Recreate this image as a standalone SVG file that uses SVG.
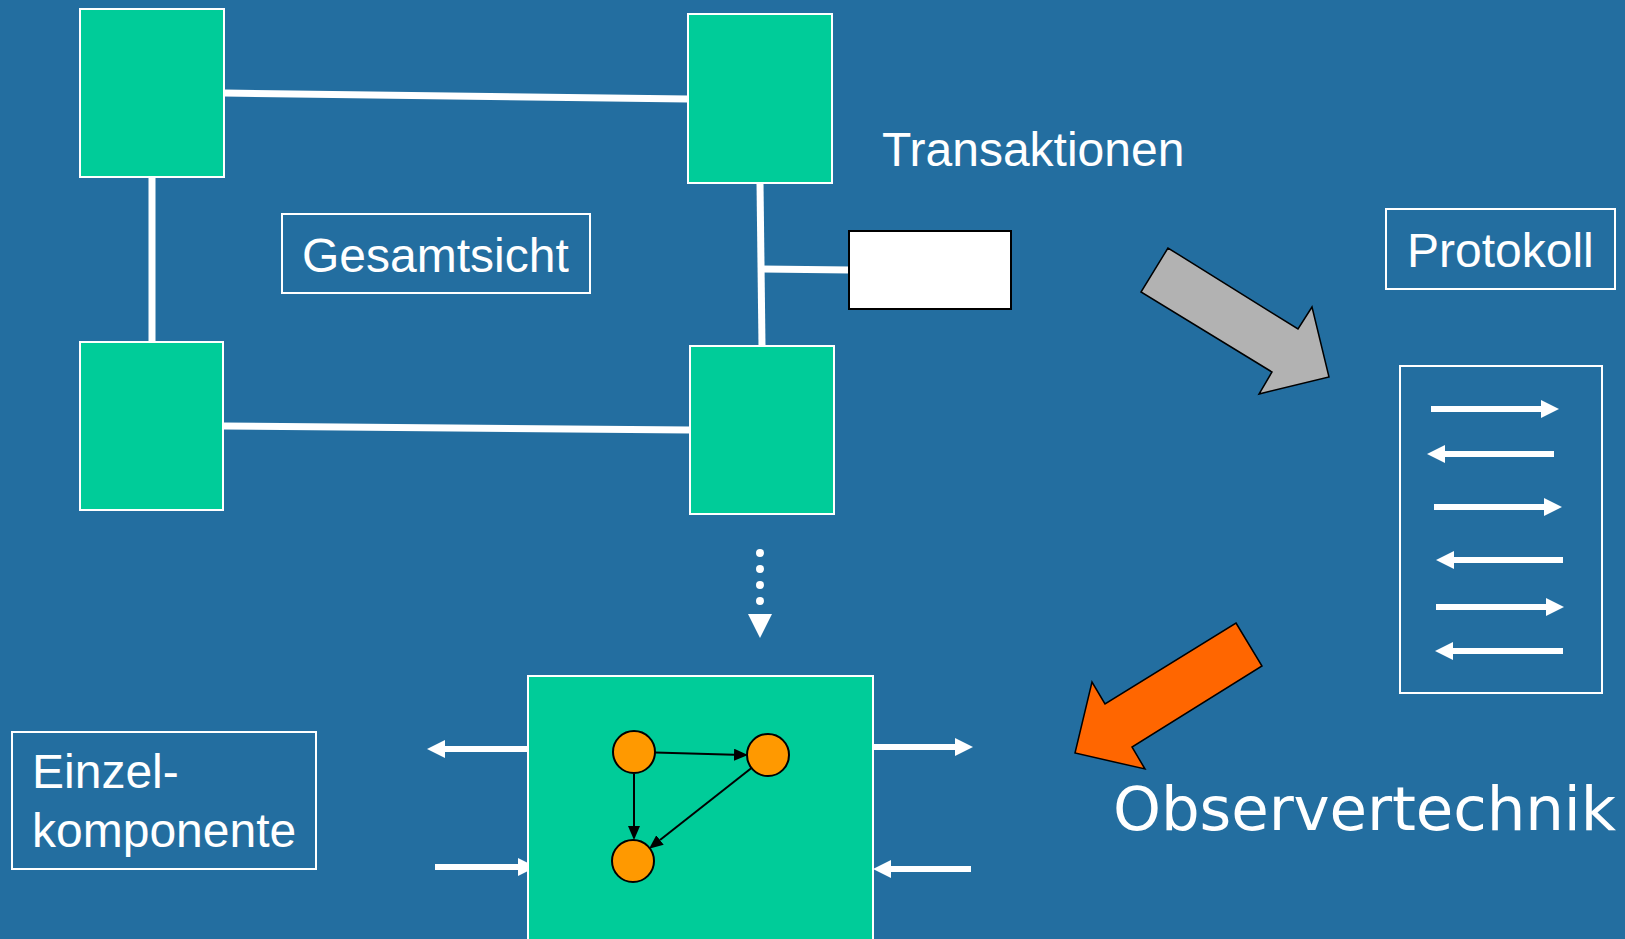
<svg xmlns="http://www.w3.org/2000/svg" width="1625" height="939" viewBox="0 0 1625 939">
  <style>
    .comp { fill: #00cc99; stroke: #ffffff; stroke-width: 2; }
    .frame { fill: none; stroke: #ffffff; stroke-width: 2; }
    .wire { stroke: #ffffff; stroke-width: 7; fill: none; }
    .flow { stroke: #ffffff; stroke-width: 6; fill: none; marker-end: url(#whiteHead); }
    .label { font-family: "Liberation Sans", Arial, sans-serif; font-size: 48px; fill: #ffffff; }
    .state { fill: #ff9900; stroke: #000000; stroke-width: 2; }
    .edge { stroke: #000000; stroke-width: 2; fill: none; marker-end: url(#blackHead); }
  </style>
  <defs>
    <marker id="whiteHead" viewBox="0 -9 18 18" refX="0" refY="0" markerWidth="18" markerHeight="18" markerUnits="userSpaceOnUse" orient="auto">
      <path d="M0,-9 L18,0 L0,9 Z" fill="#ffffff"/>
    </marker>
    <marker id="blackHead" viewBox="0 -6 14 12" refX="0" refY="0" markerWidth="14" markerHeight="12" markerUnits="userSpaceOnUse" orient="auto">
      <path d="M0,-6 L14,0 L0,6 Z" fill="#000000"/>
    </marker>
  </defs>

  <rect width="1625" height="939" fill="#236ea0"/>

  <!-- connectors of the overall view -->
  <g id="connectors">
    <line class="wire" x1="224" y1="93" x2="688" y2="99"/>
    <line class="wire" x1="152" y1="177" x2="152" y2="342"/>
    <line class="wire" x1="760" y1="183" x2="762" y2="346"/>
    <line class="wire" x1="761" y1="269" x2="850" y2="270"/>
    <line class="wire" x1="223" y1="426" x2="690" y2="430"/>
    <!-- dotted zoom-in arrow -->
    <line x1="760" y1="553" x2="760" y2="602" stroke="#ffffff" stroke-width="8" stroke-linecap="round" stroke-dasharray="0 16"/>
    <polygon points="748,614 772,614 760,638" fill="#ffffff"/>
    <!-- interface arrows of the single component -->
    <line class="flow" x1="528" y1="749" x2="445" y2="749"/>
    <line class="flow" x1="435" y1="867" x2="518" y2="867"/>
    <line class="flow" x1="873" y1="747" x2="955" y2="747"/>
    <line class="flow" x1="971" y1="869" x2="891" y2="869"/>
  </g>

  <!-- components of the overall view -->
  <g id="comp-tl"><rect class="comp" x="80" y="9" width="144" height="168"/></g>
  <g id="comp-tr"><rect class="comp" x="688" y="14" width="144" height="169"/></g>
  <g id="comp-bl"><rect class="comp" x="80" y="342" width="143" height="168"/></g>
  <g id="comp-br"><rect class="comp" x="690" y="346" width="144" height="168"/></g>

  <g id="transaction-box"><rect x="849" y="231" width="162" height="78" fill="#ffffff" stroke="#000000" stroke-width="2"/></g>

  <g id="label-gesamtsicht">
    <rect class="frame" x="282" y="214" width="308" height="79"/>
    <text class="label" x="302" y="272">Gesamtsicht</text>
  </g>

  <g id="label-transaktionen">
    <text class="label" x="882" y="166">Transaktionen</text>
  </g>

  <!-- grey arrow towards the log -->
  <g id="arrow-log">
    <polygon points="1168,248 1141,292 1272,372 1259,394 1329,377 1312,307 1298,329" fill="#b2b2b2" stroke="#000000" stroke-width="1.5"/>
  </g>

  <g id="label-protokoll">
    <rect class="frame" x="1386" y="209" width="229" height="80"/>
    <text class="label" x="1407" y="267">Protokoll</text>
  </g>

  <!-- log of exchanged messages -->
  <g id="protokoll">
    <rect class="frame" x="1400" y="366" width="202" height="327"/>
    <line class="flow" x1="1431" y1="409" x2="1541" y2="409"/>
    <line class="flow" x1="1554" y1="454" x2="1445" y2="454"/>
    <line class="flow" x1="1434" y1="507" x2="1544" y2="507"/>
    <line class="flow" x1="1563" y1="560" x2="1454" y2="560"/>
    <line class="flow" x1="1436" y1="607" x2="1546" y2="607"/>
    <line class="flow" x1="1563" y1="651" x2="1453" y2="651"/>
  </g>

  <!-- orange arrow back to the component -->
  <g id="arrow-observer">
    <polygon points="1236,623 1262,666 1132,747 1145,769 1075,753 1092,682 1105,704" fill="#ff6600" stroke="#000000" stroke-width="1.5"/>
  </g>

  <g id="label-observertechnik">
    <text x="1113" y="830" font-family="'DejaVu Sans', Verdana, sans-serif" font-size="61" fill="#ffffff" textLength="503" lengthAdjust="spacing">Observertechnik</text>
  </g>

  <g id="label-einzelkomponente">
    <rect class="frame" x="12" y="732" width="304" height="137"/>
    <text class="label" x="32" y="788">Einzel-</text>
    <text class="label" x="32" y="847">komponente</text>
  </g>

  <!-- single component with its internal state machine -->
  <g id="single-component">
    <rect class="comp" x="528" y="676" width="345" height="280"/>
    <line class="edge" x1="655" y1="752.5" x2="734" y2="754.7"/>
    <line class="edge" x1="634" y1="774" x2="634" y2="826"/>
    <line class="edge" x1="751.5" y1="768" x2="660" y2="840"/>
    <circle class="state" cx="634" cy="752" r="21"/>
    <circle class="state" cx="768" cy="755" r="21"/>
    <circle class="state" cx="633" cy="861" r="21"/>
  </g>
</svg>
